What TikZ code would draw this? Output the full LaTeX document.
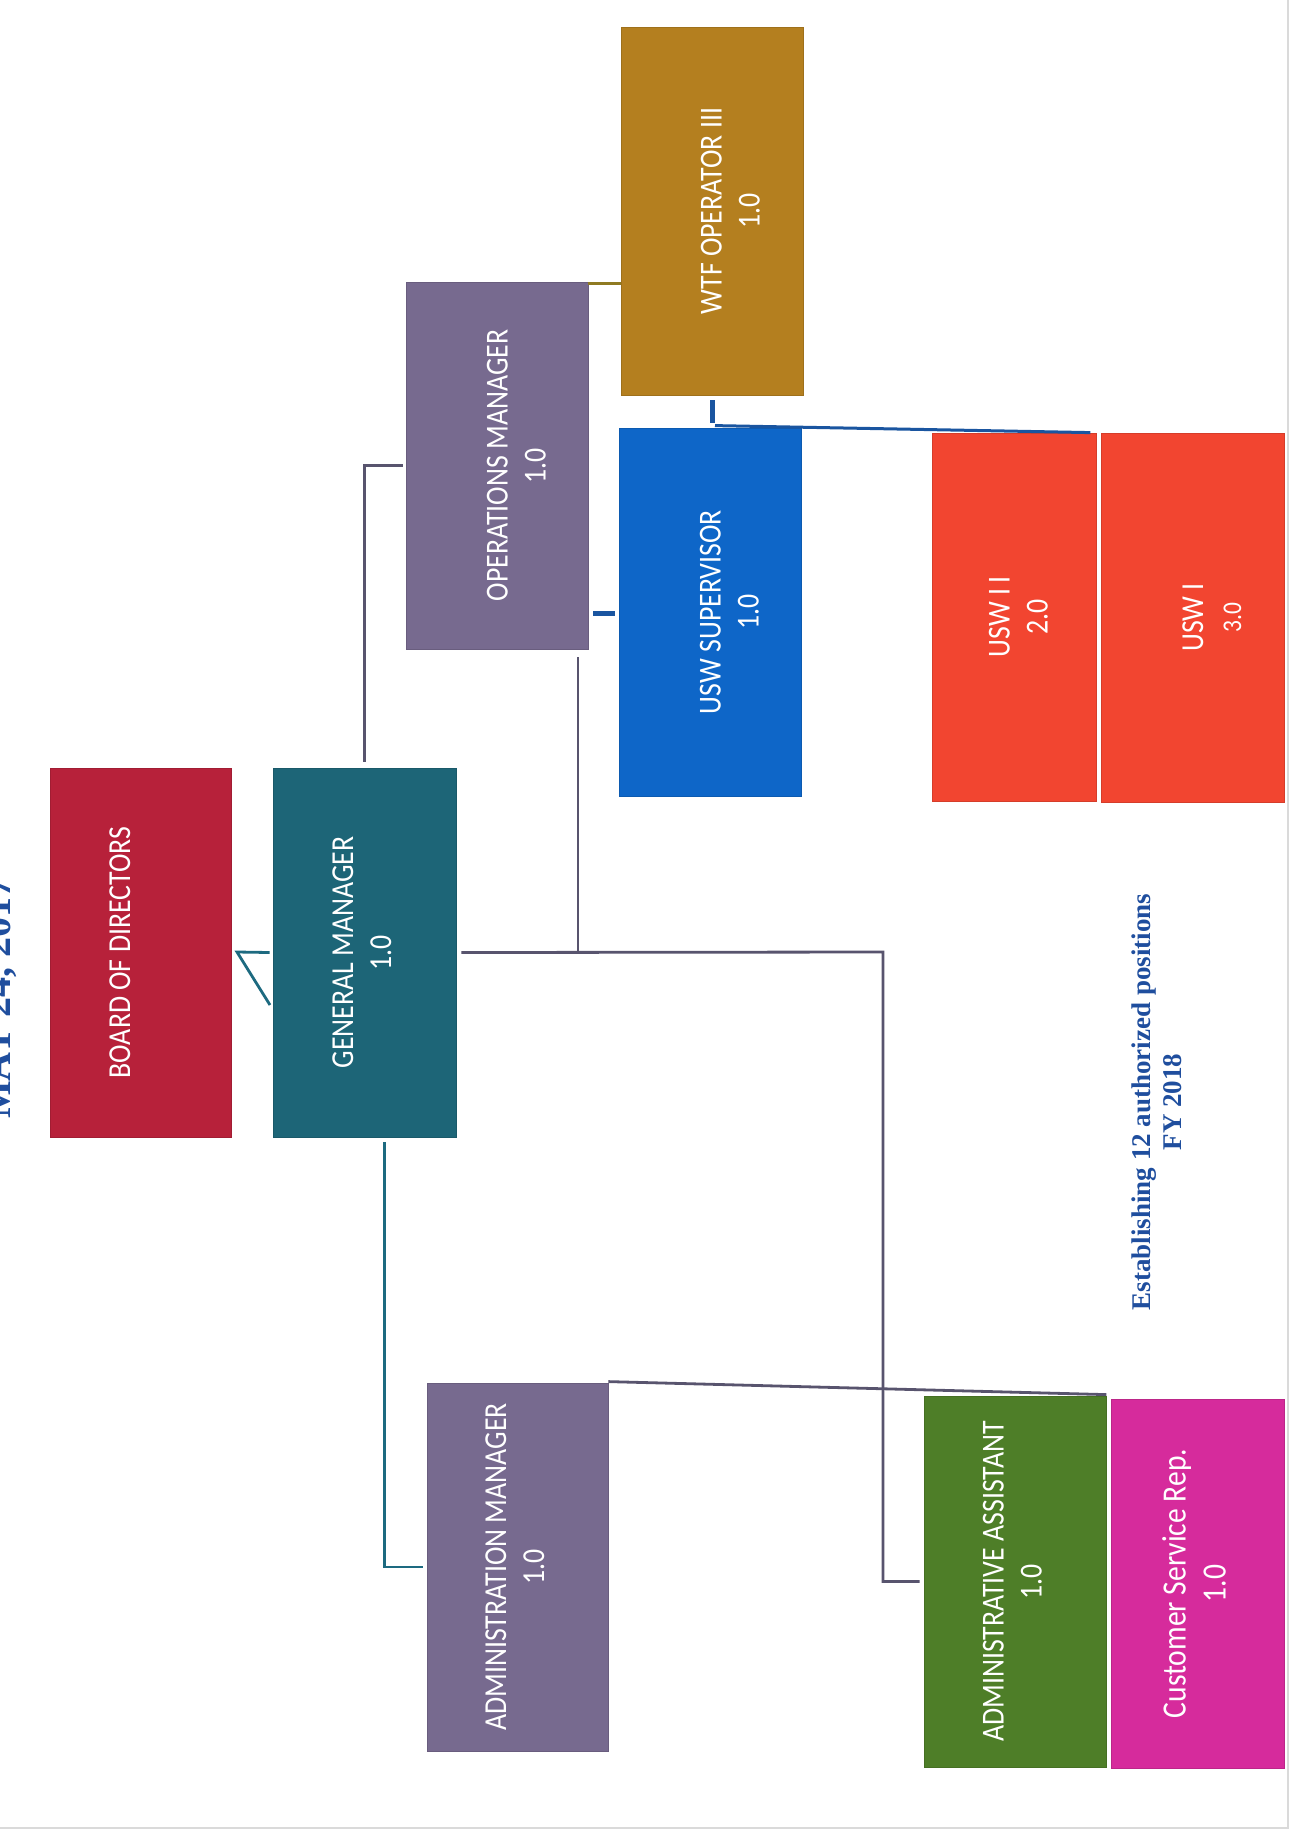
\documentclass[tikz,border=0pt]{standalone}
\usepackage{fontspec}
\usepackage{graphicx}
\setmainfont{Carlito}
\newfontfamily\boxfont[FakeStretch=0.87]{Carlito}
\newfontfamily\titlefont{Liberation Serif}
\usetikzlibrary{calc}
\definecolor{bodred}{HTML}{B7213A}
\definecolor{gmteal}{HTML}{1D6577}
\definecolor{mgrpurple}{HTML}{776A8F}
\definecolor{wtfgold}{HTML}{B47F1F}
\definecolor{supblue}{HTML}{0E66C8}
\definecolor{uswred}{HTML}{F24530}
\definecolor{asstgreen}{HTML}{4E7E28}
\definecolor{csrpink}{HTML}{D62B9C}
\definecolor{linegray}{HTML}{58546E}
\definecolor{lineteal}{HTML}{1D6A80}
\definecolor{lineblue}{HTML}{1A55A0}
\definecolor{lineolive}{HTML}{8F7A22}
\definecolor{titleblue}{HTML}{1F4E9E}
\definecolor{pageedge}{HTML}{DADADA}
% optional argument: rightward shift of the label inside its box
\newcommand\orglbl[3][0pt]{\hspace*{#1}\hspace*{#1}\rotatebox{90}{\begin{tabular}{@{}c@{}}#2\\#3\end{tabular}}}
\tikzset{
  orgbox/.style={rectangle, inner sep=0pt, draw=#1!88!black, line width=0.8pt, fill=#1, text=white,
    font=\boxfont\fontsize{32}{38}\selectfont},
  conngray/.style={line width=2.8pt, color=linegray},
  connteal/.style={line width=2.8pt, color=lineteal},
  connblue/.style={line width=3pt, color=lineblue},
  bluedash/.style={line width=5pt, color=lineblue},
  connolive/.style={line width=2.8pt, color=lineolive},
  titletext/.style={text=titleblue, inner sep=0pt, font=\titlefont\bfseries\fontsize{27}{31}\selectfont}
}
\begin{document}
\begin{tikzpicture}[x=1pt,y=-1pt]
\useasboundingbox (0,0) rectangle (1297,1831);
\fill[white] (0,0) rectangle (1297,1831);
\begin{scope}
\clip (0,0) rectangle (1297,1831);
% page edges of the scan
\draw[pageedge, line width=1.5pt] (1288,0) -- (1288,1828) -- (0,1828);
% date heading, cut at the left edge
\node[titletext, font=\titlefont\bfseries\fontsize{40}{44}\selectfont, rotate=90, anchor=base] (date) at (10,998) {MAY 24, 2017};

% boxes
\node[orgbox=bodred, minimum width=181pt, minimum height=369pt] (bod) at (140.5,952.5) {\orglbl[-18pt]{BOARD OF DIRECTORS}{}};
\node[orgbox=gmteal, minimum width=183pt, minimum height=369pt] (gm) at (364.5,952.5) {\orglbl{GENERAL MANAGER}{1.0}};
\node[orgbox=mgrpurple, minimum width=182pt, minimum height=367pt] (om) at (497,465.5) {\orglbl[22pt]{OPERATIONS MANAGER}{1.0}};
\node[orgbox=wtfgold, minimum width=182pt, minimum height=368pt] (wtf) at (712,211) {\orglbl[21pt]{WTF OPERATOR III}{1.0}};
\node[orgbox=supblue, minimum width=182pt, minimum height=368pt] (sup) at (710,612) {\orglbl[22pt]{USW SUPERVISOR}{1.0}};
\node[orgbox=uswred, minimum width=164pt, minimum height=368pt] (usw2) at (1014,617) {\orglbl[7pt]{USW I\,I}{2.0}};
\node[orgbox=uswred, minimum width=183pt, minimum height=369pt] (usw1) at (1192.5,617.5) {\orglbl[22pt]{USW I}{{\fontsize{27}{38}\selectfont 3.0}}};
\node[orgbox=mgrpurple, minimum width=181pt, minimum height=368pt] (adm) at (517.5,1567) {\orglbl{ADMINISTRATION MANAGER}{1.0}};
\node[orgbox=asstgreen, minimum width=182pt, minimum height=371pt] (asst) at (1015,1581.5) {\orglbl{ADMINISTRATIVE ASSISTANT}{1.0}};
\node[orgbox=csrpink, minimum width=173pt, minimum height=369pt, font=\boxfont\fontsize{34}{40}\selectfont] (csr) at (1197.5,1583.5) {\orglbl{Customer Service Rep.}{1.0}};

% note
\node[titletext, anchor=center] (note) at (1160,1102) {\rotatebox{90}{\begin{tabular}{@{}c@{}}Establishing 12 authorized positions\\FY 2018\end{tabular}}};

% connector junctions
\coordinate (bodk) at (237,952);
\coordinate (bodd) at (270,1005);
\coordinate (ja) at (883,952);
\coordinate (jo) at (578,952);
\coordinate (d1) at (593,613);
\coordinate (d2) at (615,613);

% connectors
\draw[connteal] ([xshift=-3pt]gm.west) -- (bodk) -- (bodd);
\draw[conngray] ([yshift=6pt]gm.north) |- ([xshift=-3pt]om.west);
\draw[conngray] ([xshift=5pt]gm.east) -- (ja) |- ([xshift=-4pt]asst.west);
\draw[conngray] (jo) -- ([yshift=-8pt]jo |- om.south);
\draw[connolive] ([yshift=-2pt]om.north east) -- ([yshift=-2pt]om.north east -| wtf.west);
\draw[bluedash] (d1) -- (d2);
\draw[bluedash] ([yshift=-5pt]wtf.south) -- ([yshift=5pt]wtf.south |- sup.north);
\draw[connblue] ([xshift=5pt,yshift=2pt]sup.north) -- ([xshift=-6pt]usw2.north east);
\draw[connteal] ([xshift=20pt,yshift=-5pt]gm.south) |- ([xshift=-4pt]adm.west);
\draw[conngray] ([yshift=1pt]adm.north east) -- ([yshift=1pt]asst.north east);
\end{scope}
\end{tikzpicture}
\end{document}
